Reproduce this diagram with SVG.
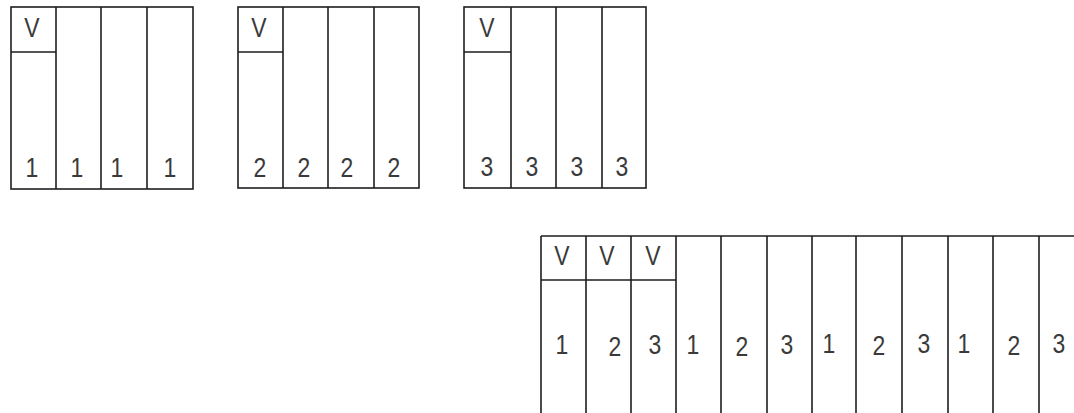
<svg xmlns="http://www.w3.org/2000/svg" width="1074" height="413" viewBox="0 0 1074 413">
<style>
.ln{stroke:#1e1e1e;stroke-width:1.6;fill:none}
.t{font-family:"Liberation Sans",Arial,sans-serif;font-size:28px;fill:#3a3a3a;text-anchor:middle}
</style>
<rect width="1074" height="413" fill="#fff"/>
<g id="box1">
<rect class="ln" x="11" y="7" width="182" height="182"/>
<path class="ln" d="M56 7V189M101 7V189M147 7V189M11 52H56"/>
<text class="t" transform="translate(32 37) scale(0.82 1)">V</text>
<text class="t" transform="translate(32 177) scale(0.82 1)">1</text>
<text class="t" transform="translate(77 177) scale(0.82 1)">1</text>
<text class="t" transform="translate(117 177) scale(0.82 1)">1</text>
<text class="t" transform="translate(170 177) scale(0.82 1)">1</text>
</g>
<g id="box2">
<rect class="ln" x="238" y="7" width="181" height="181"/>
<path class="ln" d="M283 7V188M328 7V188M374 7V188M238 52H283"/>
<text class="t" transform="translate(259 37) scale(0.82 1)">V</text>
<text class="t" transform="translate(260 177) scale(0.82 1)">2</text>
<text class="t" transform="translate(304 177) scale(0.82 1)">2</text>
<text class="t" transform="translate(347 177) scale(0.82 1)">2</text>
<text class="t" transform="translate(394 177) scale(0.82 1)">2</text>
</g>
<g id="box3">
<rect class="ln" x="464" y="7" width="182" height="181"/>
<path class="ln" d="M511 7V188M556 7V188M602 7V188M464 52H511"/>
<text class="t" transform="translate(487 37) scale(0.82 1)">V</text>
<text class="t" transform="translate(487 176) scale(0.82 1)">3</text>
<text class="t" transform="translate(532 176) scale(0.82 1)">3</text>
<text class="t" transform="translate(577 176) scale(0.82 1)">3</text>
<text class="t" transform="translate(622 176) scale(0.82 1)">3</text>
</g>
<g id="combined">
<path class="ln" d="M541 236H1074M541 236V413M586 236V413M631 236V413M676 236V413M721 236V413M767 236V413M812 236V413M856 236V413M902 236V413M948 236V413M993 236V413M1039 236V413M541 280H676"/>
<text class="t" transform="translate(562 265) scale(0.82 1)">V</text>
<text class="t" transform="translate(607 265) scale(0.82 1)">V</text>
<text class="t" transform="translate(653 265) scale(0.82 1)">V</text>
<text class="t" transform="translate(562 354) scale(0.82 1)">1</text>
<text class="t" transform="translate(615 356) scale(0.82 1)">2</text>
<text class="t" transform="translate(655 354) scale(0.82 1)">3</text>
<text class="t" transform="translate(693 354) scale(0.82 1)">1</text>
<text class="t" transform="translate(742 356) scale(0.82 1)">2</text>
<text class="t" transform="translate(787 354) scale(0.82 1)">3</text>
<text class="t" transform="translate(829 353) scale(0.82 1)">1</text>
<text class="t" transform="translate(879 355) scale(0.82 1)">2</text>
<text class="t" transform="translate(924 353) scale(0.82 1)">3</text>
<text class="t" transform="translate(964 353) scale(0.82 1)">1</text>
<text class="t" transform="translate(1014 355) scale(0.82 1)">2</text>
<text class="t" transform="translate(1059 353) scale(0.82 1)">3</text>
</g>
</svg>
